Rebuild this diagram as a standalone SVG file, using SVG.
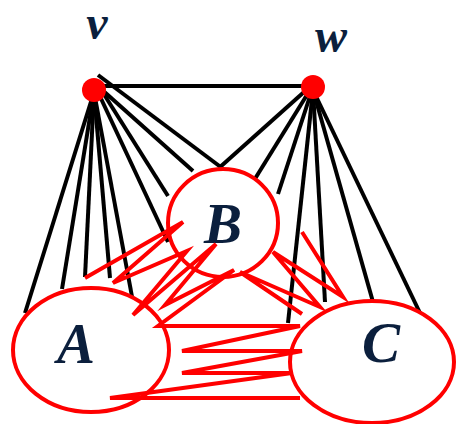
<svg xmlns="http://www.w3.org/2000/svg" width="456" height="424" viewBox="0 0 456 424">
<style>
.lbl{font-family:"Liberation Serif","Times New Roman",serif;font-weight:bold;font-style:italic;font-size:57px;fill:#0b1f3d;text-anchor:middle}
.sm{font-size:48px}
.blk{stroke:#000;stroke-width:4;fill:none}
.red{stroke:#ff0000;stroke-width:4;fill:none;stroke-miterlimit:6}
.set{stroke:#ff0000;stroke-width:4;fill:#fff}
.dot{fill:#ff0000}
</style>
<rect width="456" height="424" fill="#fff"/>
<g id="connectors">
<line class="blk" x1="104" y1="86" x2="306" y2="86"/>
<line class="blk" x1="94" y1="92" x2="25" y2="313"/>
<line class="blk" x1="94" y1="92" x2="62" y2="289"/>
<line class="blk" x1="94" y1="92" x2="85" y2="277"/>
<line class="blk" x1="94" y1="92" x2="110" y2="278"/>
<line class="blk" x1="94" y1="92" x2="133" y2="302"/>
<line class="blk" x1="97" y1="90" x2="168" y2="242"/>
<line class="blk" x1="100" y1="88" x2="168" y2="196"/>
<line class="blk" x1="100" y1="88" x2="193" y2="171"/>
<line class="blk" x1="98" y1="75" x2="222" y2="168"/>
<line class="blk" x1="304" y1="92" x2="219" y2="168"/>
<line class="blk" x1="310" y1="90" x2="253" y2="182"/>
<line class="blk" x1="312" y1="90" x2="278" y2="194"/>
<line class="blk" x1="313" y1="90" x2="288" y2="323"/>
<line class="blk" x1="313" y1="90" x2="325" y2="302"/>
<line class="blk" x1="313" y1="90" x2="373" y2="302"/>
<line class="blk" x1="313" y1="90" x2="420" y2="313"/>
</g>
<g id="node-A"><ellipse class="set" cx="91" cy="350" rx="78" ry="62"/><text class="lbl" x="76" y="363">A</text></g>
<g id="node-B"><ellipse class="set" cx="223" cy="223" rx="55" ry="54"/><text class="lbl" x="223" y="243">B</text></g>
<g id="node-C"><ellipse class="set" cx="372" cy="362" rx="82" ry="61"/><text class="lbl" x="381" y="362">C</text></g>
<g id="edges-between-sets">
<polyline class="red" points="85,278 183,222 113,283 187,251 133,315 216,244 165,305 234,270 158,326 300,326 182,351 302,351 182,373 292,373 110,398 300,398"/>
<polyline class="red" points="302,232 343,297 273,252 320,307 240,272 302,314"/>
</g>
<g id="node-v"><circle class="dot" cx="94" cy="90" r="12"/><text class="lbl sm" x="97" y="39">v</text></g>
<g id="node-w"><circle class="dot" cx="313" cy="87" r="12"/><text class="lbl sm" x="331" y="52">w</text></g>
</svg>
